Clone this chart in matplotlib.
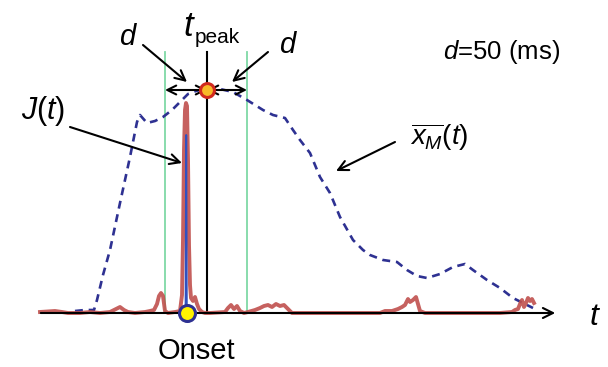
import matplotlib
matplotlib.use("Agg")
import matplotlib.pyplot as plt

plt.rcParams['font.family'] = ['Liberation Sans', 'DejaVu Sans']
plt.rcParams['mathtext.fontset'] = 'custom'
plt.rcParams['mathtext.rm'] = 'Liberation Sans'
plt.rcParams['mathtext.it'] = 'Liberation Sans:italic'

# values (pixel units, y grows downward, baseline at 313)
base = 313
t_peak = 207
t_onset = 187
d_left, d_right = 165, 247
peak_y = 90

xm_t = [75, 85, 94, 97, 103, 110, 120, 130, 137, 140, 147, 155, 163, 172, 180, 188,
        196, 207, 220, 233, 247, 263, 273, 285, 293, 300, 310, 320, 330, 340, 353,
        363, 370, 383, 397, 407, 417, 427, 440, 453, 465, 473, 487, 500, 513, 523, 533]
xm_val = [311, 310, 310, 300, 275, 250, 203, 157, 122, 115, 123, 121, 117, 110, 102, 94,
          91, 88, 89, 92, 100, 110, 115, 118, 130, 140, 153, 177, 193, 217, 240,
          250, 255, 260, 262, 270, 276, 278, 274, 267, 264, 270, 280, 288, 298, 303, 308]

j_t = [40, 55, 62, 68, 80, 90, 100, 110, 116, 120, 124, 128, 135, 145, 150, 154, 157,
       159, 161, 163, 165, 168, 175, 180, 182, 183, 184, 185, 186, 187, 188, 189, 190,
       191, 193, 195, 197, 199, 202, 205, 210, 225, 228, 231, 234, 237, 240, 244, 248,
       255, 260, 264, 268, 272, 276, 280, 284, 288, 292, 300, 380, 385, 392, 398, 402,
       405, 408, 410, 413, 416, 418, 420, 425, 435, 500, 512, 515, 518, 520, 522, 524,
       526, 528, 530, 532, 534]
j_val = [312, 311, 312, 313, 313, 312, 313, 312, 309, 307, 310, 312, 313, 312, 311, 310, 304,
         296, 293, 296, 311, 313, 312, 311, 295, 240, 150, 110, 103, 106, 160, 245, 285,
         298, 301, 297, 304, 309, 312, 313, 313, 312, 308, 305, 309, 306, 311, 313, 312,
         310, 308, 306, 305, 307, 304, 306, 305, 309, 313, 313, 313, 311, 311, 309, 307,
         305, 299, 302, 300, 297, 304, 311, 313, 313, 313, 312, 310, 309, 304, 300, 307,
         303, 298, 301, 299, 303]

jb_t = [185.6, 186.2, 186.8]
jb_val = [313, 135, 313]

fig = plt.figure(figsize=(6.08, 3.67), dpi=100)
ax = fig.add_axes([0, 0, 1, 1])
ax.set_xlim(0, 608)
ax.set_ylim(367, 0)
ax.axis('off')

navy = '#2E3192'
red = '#C0504D'
green = '#7FD9A6'

# window lines
for xv in (d_left, d_right):
    ax.plot([xv, xv], [52, base], color=green, lw=1.3)
ax.plot([t_peak, t_peak], [52, base], color='black', lw=1.5)

# averaged signal
ax.plot(xm_t, xm_val, color=navy, lw=1.9, dashes=(3.0, 2.2))

# J(t)
ax.plot(j_t, j_val, color=red, lw=2.8, alpha=0.9, solid_joinstyle='round')
ax.plot(jb_t, jb_val, color='#3050C0', lw=1.4)

# time axis
ax.annotate('', xy=(558, base), xytext=(38, base),
            arrowprops=dict(arrowstyle='->', lw=1.5, color='black', mutation_scale=18))

# d intervals
for x0, x1 in ((t_peak, d_left), (t_peak, d_right)):
    ax.annotate('', xy=(x1, peak_y), xytext=(x0, peak_y),
                arrowprops=dict(arrowstyle='<->', lw=1.5, color='black', mutation_scale=16,
                                shrinkA=0, shrinkB=0))

arrow = dict(arrowstyle='->', lw=1.5, color='black', mutation_scale=18, shrinkA=0, shrinkB=0)
ax.annotate('', xy=(182, 163), xytext=(70, 127), arrowprops=arrow)
ax.annotate('', xy=(187, 82), xytext=(143, 45), arrowprops=arrow)
ax.annotate('', xy=(232, 82), xytext=(268, 52), arrowprops=arrow)
ax.annotate('', xy=(336, 171), xytext=(395, 142), arrowprops=arrow)

# markers
ax.plot([t_peak], [peak_y], 'o', ms=10, mfc='#F7B928', mec='#D12A1F', mew=2.2, zorder=6)
ax.plot([t_onset], [base], 'o', ms=11.5, mfc='#FFF200', mec=navy, mew=2.2, zorder=6, clip_on=False)

# texts
ax.text(21, 111, r'$J(t)$', fontsize=22, va='center', ha='left')
ax.text(183, 36, 't', fontsize=25, style='italic', va='baseline', ha='left')
ax.text(195, 43, 'peak', fontsize=15, va='baseline', ha='left')
ax.text(127, 37, 'd', fontsize=21, style='italic', va='center', ha='center')
ax.text(287, 45, 'd', fontsize=21, style='italic', va='center', ha='center')
ax.text(443, 52, r'$d$=50 (ms)', fontsize=18.5, va='center', ha='left')
ax.text(410, 137, r'$\overline{x_M}(t)$', fontsize=20, va='center', ha='left')
ax.text(196, 351, 'Onset', fontsize=21, va='center', ha='center')
ax.text(594, 317, 't', fontsize=23, style='italic', va='center', ha='center')

fig.savefig('out.png', dpi=100)
